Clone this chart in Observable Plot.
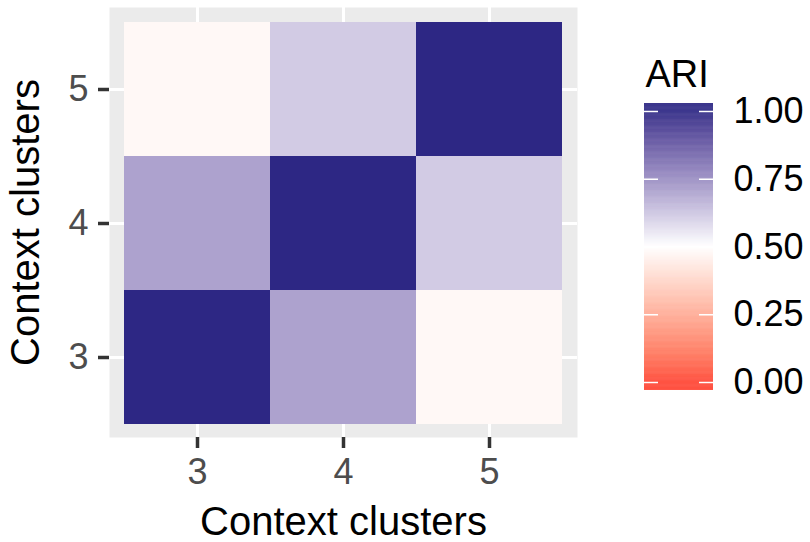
<!DOCTYPE html>
<html><head><meta charset="utf-8">
<script src="https://cdn.jsdelivr.net/npm/d3@7"></script>
<script src="https://cdn.jsdelivr.net/npm/@observablehq/plot@0.6"></script>
<style>
body{margin:0;background:#fff;}
#wrap{position:relative;width:810px;height:542px;overflow:hidden;font-family:"Liberation Sans",Arial,sans-serif;}
#wrap svg{position:absolute;top:0;}
</style></head><body><div id="wrap"></div>
<script>
// ---- data ----
const xClusters = [3, 4, 5];
const yClusters = [3, 4, 5];
const ariY3 = [1.00, 0.70, 0.48];
const ariY4 = [0.70, 1.00, 0.61];
const ariY5 = [0.48, 0.61, 1.00];
const legendTicks = [0, 0.25, 0.5, 0.75, 1];
const xTitle = "Context clusters";
const yTitle = "Context clusters";
const legendTitle = "ARI";

const rows = {3: ariY3, 4: ariY4, 5: ariY5};
const cells = yClusters.flatMap(y => xClusters.map((x, i) => ({x, y, ari: rows[y][i]})));

const font = '"Liberation Sans", Arial, sans-serif';
const colorScale = {type: "linear", domain: [0, 0.5, 1], range: ["#FF4433", "#FFFFFF", "#2D2784"], interpolate: "lab", clamp: true};

const main = Plot.plot({
  width: 600, height: 542,
  marginLeft: 109, marginRight: 23, marginTop: 7, marginBottom: 105,
  style: {fontFamily: font, background: "transparent"},
  x: {type: "band", domain: xClusters, padding: 0, insetLeft: 14, insetRight: 15},
  y: {type: "band", domain: [...yClusters].reverse(), padding: 0, insetTop: 14, insetBottom: 13},
  color: colorScale,
  marks: [
    Plot.frame({fill: "#EBEBEB", stroke: "none"}),
    Plot.gridX({stroke: "white", strokeOpacity: 1, strokeWidth: 3}),
    Plot.gridY({stroke: "white", strokeOpacity: 1, strokeWidth: 3}),
    Plot.cell(cells, {x: "x", y: "y", fill: "ari", inset: 0}),
    Plot.axisX({tickSize: 11, tickPadding: 10, stroke: "#333333", strokeWidth: 3.5, fill: "#4D4D4D", fontSize: 36, label: null}),
    Plot.axisY({tickSize: 11, tickPadding: 10, stroke: "#333333", strokeWidth: 3.5, fill: "#4D4D4D", fontSize: 36, label: null}),
    Plot.text([xTitle], {frameAnchor: "bottom", dy: 85, fontSize: 40, fill: "black", textAnchor: "middle", lineAnchor: "middle", text: d => d}),
    Plot.text([yTitle], {frameAnchor: "left", dx: -83, rotate: -90, fontSize: 40, fill: "black", textAnchor: "middle", lineAnchor: "middle", text: d => d})
  ]
});
main.style.left = "0px";

const lo = -0.0295, hi = 1.0295, step = 0.002;
const ramp = d3.range(lo, hi, step).map(v => ({v0: v, v1: Math.min(v + step * 1.5, hi), mid: v + step / 2}));

const legend = Plot.plot({
  width: 210, height: 542,
  marginLeft: 44, marginRight: 97, marginTop: 103, marginBottom: 152,
  style: {fontFamily: font, background: "transparent"},
  y: {domain: [lo, hi]},
  color: colorScale,
  marks: [
    Plot.rect(ramp, {y1: "v0", y2: "v1", fill: "mid", inset: 0}),
    Plot.tickY(legendTicks, {y: d => d, stroke: "white", strokeWidth: 1.5, insetRight: 55}),
    Plot.tickY(legendTicks, {y: d => d, stroke: "white", strokeWidth: 1.5, insetLeft: 55}),
    Plot.axisY(legendTicks, {anchor: "right", tickSize: 0, tickPadding: 20, tickFormat: d3.format(".2f"), fontSize: 36, fill: "black", label: null}),
    Plot.text([legendTitle], {frameAnchor: "top-left", dx: 1, dy: -29, textAnchor: "start", lineAnchor: "middle", fontSize: 38, fill: "black", text: d => d})
  ]
});
legend.style.left = "600px";

const wrap = document.getElementById("wrap");
wrap.appendChild(main);
wrap.appendChild(legend);
</script></body></html>
